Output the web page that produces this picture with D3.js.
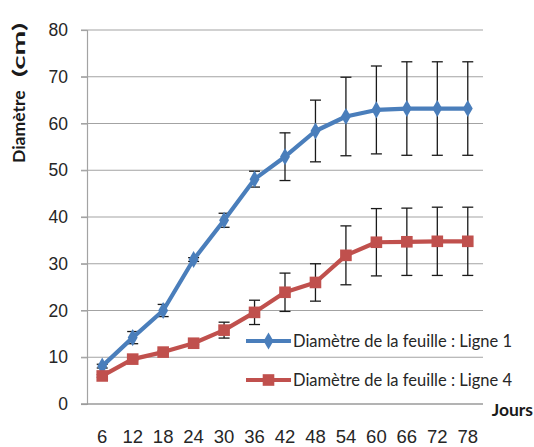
<!DOCTYPE html>
<html>
<head>
<meta charset="utf-8">
<script src="https://cdn.jsdelivr.net/npm/d3@7"></script>
<style>
  html, body { margin: 0; padding: 0; background: #fff; }
  svg { display: block; font-family: Lato, "Open Sans", sans-serif; }
</style>
</head>
<body>
<div id="chart"></div>
<script>
// Jours de mesure
const days = [6, 12, 18, 24, 30, 36, 42, 48, 54, 60, 66, 72, 78];
// Diamètre moyen (cm) et écart (barres d'erreur)
const ligne1 = [8.1, 14.2, 20.0, 30.9, 39.3, 48.1, 52.9, 58.4, 61.5, 62.9, 63.2, 63.2, 63.2];
const err1   = [0.4, 1.3, 1.3, 0.4, 1.5, 1.7, 5.1, 6.6, 8.4, 9.4, 10.0, 10.0, 10.0];
const ligne4 = [6.0, 9.6, 11.1, 13.0, 15.8, 19.6, 23.9, 26.0, 31.8, 34.6, 34.7, 34.8, 34.8];
const err4   = [0.3, 0.3, 0.3, 0.3, 1.7, 2.6, 4.1, 4.0, 6.3, 7.2, 7.2, 7.3, 7.3];
const yTicks = [0, 10, 20, 30, 40, 50, 60, 70, 80];
const seriesNames = ["Diamètre de la feuille : Ligne 1", "Diamètre de la feuille : Ligne 4"];

const W = 534, H = 447;
const plotL = 87, plotR = 483, plotT = 30, plotB = 404;

const svg = d3.select("#chart").append("svg").attr("width", W).attr("height", H);

const x = d3.scaleBand().domain(days).range([plotL, plotR]);
const cx = d => x(d) + x.bandwidth() / 2;
const y = d3.scaleLinear().domain([0, 80]).range([plotB, plotT]);

// grid lines (with outside tick stubs)
svg.append("g").selectAll("line").data(yTicks.filter(v => v > 0)).join("line")
  .attr("x1", plotL - 6).attr("x2", plotR)
  .attr("y1", d => y(d)).attr("y2", d => y(d))
  .attr("stroke", "#a3a3a3").attr("stroke-width", 1.2);

// y axis
const yAxis = svg.append("g").attr("transform", `translate(${plotL},0)`)
  .call(d3.axisLeft(y).tickValues(yTicks).tickSize(6).tickPadding(13));
yAxis.select(".domain").attr("stroke", "#a3a3a3").attr("stroke-width", 1.2);
yAxis.selectAll(".tick line").attr("stroke", "#a3a3a3").attr("stroke-width", 1.2);
yAxis.selectAll("text").attr("font-size", 17.5).attr("fill", "#262626");

// x axis
const xAxis = svg.append("g").attr("transform", `translate(0,${plotB})`)
  .call(d3.axisBottom(x).tickSize(0).tickPadding(26));
xAxis.select(".domain").attr("d", `M${plotL - 6},0H${plotR}`)
  .attr("stroke", "#9a9a9a").attr("stroke-width", 1.6);
xAxis.selectAll("text").attr("font-size", 18.5).attr("fill", "#262626");

// axis titles
const yTitle = svg.append("g").attr("transform", "translate(25,163) rotate(-90)")
  .attr("font-weight", "bold").attr("fill", "#1a1a1a");
yTitle.append("text").attr("x", 0).attr("y", 0)
  .attr("font-size", 17.5).text("Diamètre");
yTitle.append("text").attr("transform", "translate(86,0) scale(1.7,1)")
  .attr("font-size", 17.5).text("(cm)");
svg.append("text")
  .attr("x", 533).attr("y", 416).attr("text-anchor", "end")
  .attr("font-size", 17.5).attr("font-weight", "bold").attr("fill", "#1a1a1a")
  .text("Jours");

const series = [
  { vals: ligne1, errs: err1, color: "#4a7ebb", marker: "diamond" },
  { vals: ligne4, errs: err4, color: "#c0504d", marker: "square" }
];

// error bars
series.forEach(s => {
  const g = svg.append("g").attr("stroke", "#1a1a1a").attr("stroke-width", 1.3);
  days.forEach((d, i) => {
    const hi = y(s.vals[i] + s.errs[i]), lo = y(s.vals[i] - s.errs[i]);
    g.append("line").attr("x1", cx(d)).attr("x2", cx(d)).attr("y1", hi).attr("y2", lo);
    g.append("line").attr("x1", cx(d) - 5.5).attr("x2", cx(d) + 5.5).attr("y1", hi).attr("y2", hi);
    g.append("line").attr("x1", cx(d) - 5.5).attr("x2", cx(d) + 5.5).attr("y1", lo).attr("y2", lo);
  });
});

const line = d3.line().x((v, i) => cx(days[i])).y(v => y(v));
const sym = {
  diamond: d3.symbol().type(d3.symbolDiamond).size(85),
  square: d3.symbol().type(d3.symbolSquare).size(135)
};

series.forEach(s => {
  svg.append("path").datum(s.vals)
    .attr("d", line).attr("fill", "none")
    .attr("stroke", s.color).attr("stroke-width", 4.2).attr("stroke-linejoin", "round");
  svg.append("g").selectAll("path").data(s.vals).join("path")
    .attr("transform", (v, i) => `translate(${cx(days[i])},${y(v)})`)
    .attr("d", sym[s.marker]()).attr("fill", s.color);
});

// legend
const legY = [341, 380];
series.forEach((s, i) => {
  const g = svg.append("g").attr("transform", `translate(246,${legY[i]})`);
  g.append("line").attr("x1", 0).attr("x2", 45).attr("y1", 0).attr("y2", 0)
    .attr("stroke", s.color).attr("stroke-width", 4.2);
  g.append("path").attr("transform", "translate(22.5,0)")
    .attr("d", sym[s.marker]()).attr("fill", s.color);
  g.append("text").attr("x", 47).attr("y", 6)
    .attr("font-size", 16.5).attr("fill", "#262626")
    .text(seriesNames[i]);
});
</script>
</body>
</html>
